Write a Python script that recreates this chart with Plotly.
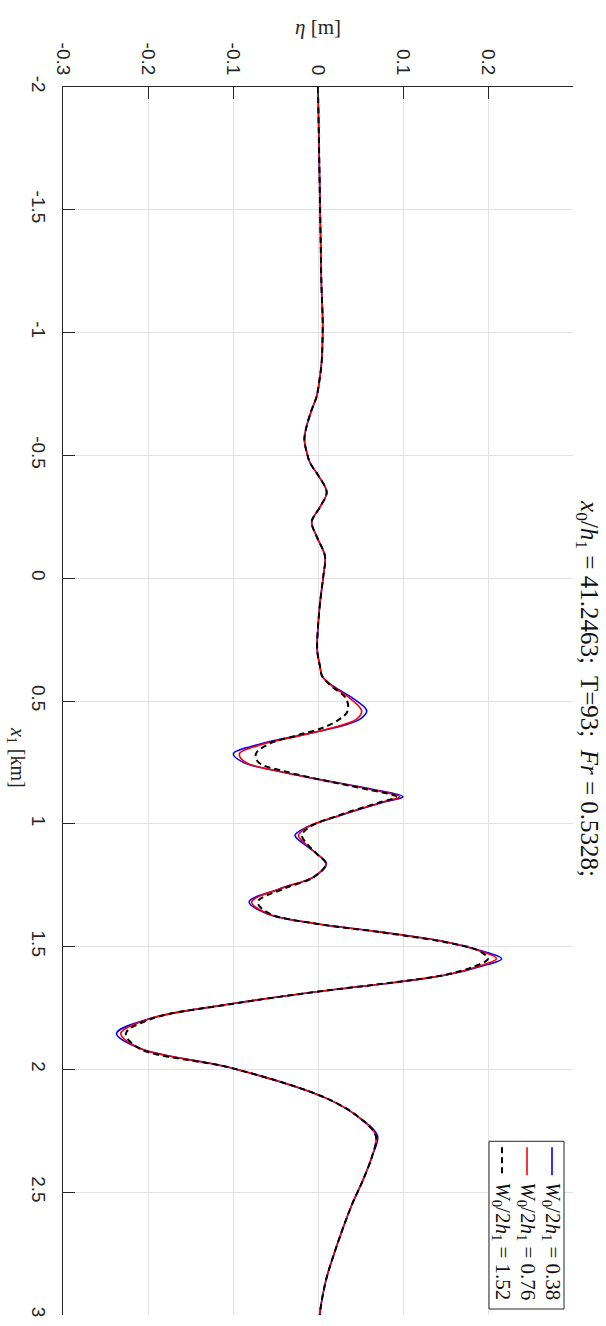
import plotly.graph_objects as go

# Along-channel position x1 [km] and free-surface elevation eta [m]
x1_km = [-2.00, -1.80, -1.60, -1.40, -1.20, -1.05, -0.95, -0.88, -0.80, -0.74,
         -0.68, -0.62, -0.565, -0.51, -0.47, -0.42, -0.35, -0.29, -0.23, -0.17,
         -0.09, -0.01, 0.10, 0.20, 0.29, 0.36, 0.40, 0.44, 0.49, 0.54,
         0.575, 0.61, 0.64, 0.675, 0.715, 0.75, 0.79, 0.83, 0.86, 0.89,
         0.912, 0.966, 1.013, 1.047, 1.081, 1.122, 1.163, 1.217, 1.264, 1.318,
         1.366, 1.407, 1.44, 1.481, 1.515, 1.549, 1.582, 1.616, 1.643, 1.684,
         1.732, 1.793, 1.854, 1.915, 1.996, 2.118, 2.20, 2.27, 2.35, 2.45,
         2.55, 2.65, 2.75, 2.85, 2.95, 3.00]

eta_w038 = [0.000, 0.001, 0.002, 0.003, 0.004, 0.0055, 0.0052, 0.0043, 0.0015, -0.0016,
            -0.008, -0.0133, -0.016, -0.013, -0.0094, 0.000, 0.0102, 0.0024, -0.0074, -0.0016,
            0.0082, 0.0063, 0.0024, 0.000, -0.001, 0.0024, 0.005, 0.018, 0.0416, 0.0573,
            0.049, 0.018, -0.021, -0.068, -0.0996, -0.088, -0.041, 0.018, 0.065, 0.100,
            0.077, 0.026, -0.013, -0.027, -0.017, -0.0016, 0.010, -0.0055, -0.045, -0.081,
            -0.060, -0.0016, 0.073, 0.151, 0.190, 0.216, 0.190, 0.151, 0.0965, -0.0016,
            -0.0996, -0.198, -0.237, -0.209, -0.0996, 0.0102, 0.050, 0.070, 0.064, 0.053,
            0.040, 0.029, 0.019, 0.010, 0.004, 0.002]

eta_w076 = [0.000, 0.001, 0.002, 0.003, 0.004, 0.0055, 0.0052, 0.0043, 0.0015, -0.0016,
            -0.008, -0.0133, -0.016, -0.013, -0.0094, 0.000, 0.0102, 0.0024, -0.0074, -0.0016,
            0.0082, 0.0063, 0.0024, 0.000, -0.001, 0.0024, 0.005, 0.017, 0.038, 0.0514,
            0.045, 0.016, -0.020, -0.064, -0.0925, -0.085, -0.040, 0.017, 0.062, 0.096,
            0.075, 0.025, -0.012, -0.023, -0.015, -0.0016, 0.0094, -0.0055, -0.044, -0.078,
            -0.059, -0.0016, 0.072, 0.150, 0.188, 0.210, 0.187, 0.150, 0.0965, -0.0016,
            -0.0996, -0.197, -0.232, -0.209, -0.0996, 0.0102, 0.050, 0.068, 0.064, 0.053,
            0.040, 0.029, 0.019, 0.010, 0.004, 0.002]

eta_w152 = [0.000, 0.001, 0.002, 0.003, 0.004, 0.0055, 0.0052, 0.0043, 0.0015, -0.0016,
            -0.008, -0.0133, -0.016, -0.013, -0.0094, 0.000, 0.0102, 0.0024, -0.0074, -0.0016,
            0.0082, 0.0063, 0.0024, 0.000, -0.001, 0.0024, 0.005, 0.016, 0.033, 0.035,
            0.025, 0.005, -0.025, -0.058, -0.073, -0.070, -0.035, 0.016, 0.058, 0.092,
            0.073, 0.024, -0.010, -0.019, -0.013, -0.0016, 0.0094, -0.0050, -0.040, -0.071,
            -0.057, -0.0016, 0.070, 0.148, 0.188, 0.200, 0.183, 0.148, 0.095, -0.0016,
            -0.098, -0.195, -0.226, -0.210, -0.0996, 0.0102, 0.050, 0.068, 0.064, 0.053,
            0.040, 0.029, 0.019, 0.010, 0.004, 0.002]

x1_ticks = [-2, -1.5, -1, -0.5, 0, 0.5, 1, 1.5, 2, 2.5, 3]
x1_tick_text = ["-2", "-1.5", "-1", "-0.5", "0", "0.5", "1", "1.5", "2", "2.5", "3"]
eta_ticks = [-0.3, -0.2, -0.1, 0, 0.1, 0.2]
eta_tick_text = ["-0.3", "-0.2", "-0.1", "0", "0.1", "0.2"]

series_labels = ["<i>W</i><sub>0</sub>/2<i>h</i><sub>1</sub> = 0.38",
                 "<i>W</i><sub>0</sub>/2<i>h</i><sub>1</sub> = 0.76",
                 "<i>W</i><sub>0</sub>/2<i>h</i><sub>1</sub> = 1.52"]
series_colors = ["#0000ff", "#ff0000", "#000000"]
series_dash = ["solid", "solid", "6px,4px"]
series_width = [1.6, 1.6, 2.0]
series_eta = [eta_w038, eta_w076, eta_w152]

W, H = 606, 1326
L, R, T, B = 63, 33, 87, 9
PW, PH = W - L - R, H - T - B
AX = "#262626"
SERIF = "Liberation Serif"
SANS = "Liberation Sans"


def px(X):
    return (X - L) / PW


def py(Y):
    return 1 - (Y - T) / PH


fig = go.Figure()
for eta, col, dash, lw, name in zip(series_eta, series_colors, series_dash, series_width, series_labels):
    fig.add_trace(go.Scatter(
        x=eta, y=x1_km, mode="lines", name=name,
        line=dict(color=col, width=lw, dash=dash, shape="spline", smoothing=1.0),
        showlegend=False,
    ))

axis_common = dict(
    ticks="inside", ticklen=12, tickwidth=1, tickcolor=AX,
    showline=True, linecolor=AX, linewidth=1, mirror=False,
    showgrid=True, gridcolor="#e2e2e2", gridwidth=1, zeroline=False,
    tickfont=dict(family=SANS, size=19, color=AX), tickangle=90,
)

fig.update_layout(
    width=W, height=H, autosize=False,
    margin=dict(l=L, r=R, t=T, b=B),
    paper_bgcolor="white", plot_bgcolor="white",
    xaxis=dict(range=[-0.3, 0.3], side="top", tickmode="array",
               tickvals=eta_ticks, ticktext=eta_tick_text,
               ticklabelstandoff=4, **axis_common),
    yaxis=dict(range=[3, -2], tickmode="array",
               tickvals=x1_ticks, ticktext=x1_tick_text,
               ticklabelstandoff=7, **axis_common),
    showlegend=False,
)

annotations = [
    dict(text="<i>η</i> [m]", x=px(318), y=py(27), font=dict(family=SERIF, size=21, color=AX)),
    dict(text="<i>x</i><sub>1</sub> [km]", x=px(16), y=py(758), textangle=90,
         font=dict(family=SERIF, size=20, color=AX)),
    dict(text="<i>x</i><sub>0</sub>/<i>h</i><sub>1</sub> = 41.2463;  T=93;  <i>Fr</i> = 0.5328;",
         x=px(588), y=py(689), textangle=90, font=dict(family=SERIF, size=25, color="#111111")),
]

# Legend drawn as a rotated box in the lower-right corner
shapes = [dict(type="rect", xref="paper", yref="paper",
               x0=px(489), x1=px(564), y0=py(1311), y1=py(1143),
               line=dict(color=AX, width=1), fillcolor="white", layer="above")]
legend_cols = [552, 527, 502]
for X, col, dash, lw, name in zip(legend_cols, series_colors, series_dash, series_width, series_labels):
    shapes.append(dict(type="line", xref="paper", yref="paper",
                       x0=px(X), x1=px(X), y0=py(1149), y1=py(1177),
                       line=dict(color=col, width=lw, dash=dash), layer="above"))
    annotations.append(dict(text=name, x=px(X), y=py(1182), yanchor="top", xanchor="center",
                            textangle=90, font=dict(family=SERIF, size=21, color="#111111")))

for a in annotations:
    a.setdefault("xref", "paper")
    a.setdefault("yref", "paper")
    a.setdefault("showarrow", False)
    a.setdefault("xanchor", "center")
    a.setdefault("yanchor", "middle")

fig.update_layout(annotations=annotations, shapes=shapes)
fig.write_html("out.html")
